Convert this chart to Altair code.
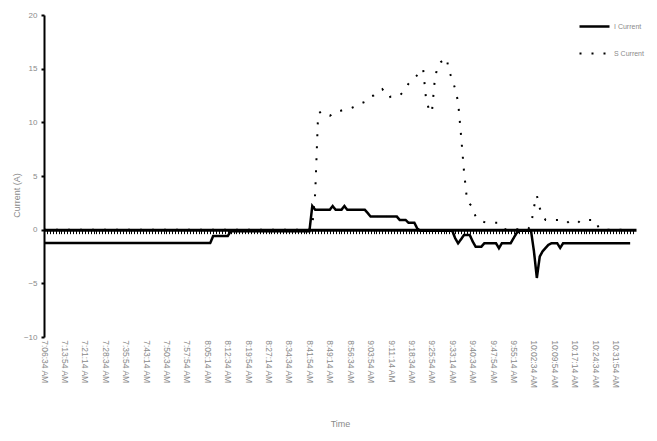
import altair as alt
import pandas as pd

# tick labels (one every 7 samples)
time_labels = [
    "7:06:34 AM", "7:13:54 AM", "7:21:14 AM", "7:28:34 AM", "7:35:54 AM",
    "7:43:14 AM", "7:50:34 AM", "7:57:54 AM", "8:05:14 AM", "8:12:34 AM",
    "8:19:54 AM", "8:27:14 AM", "8:34:34 AM", "8:41:54 AM", "8:49:14 AM",
    "8:56:34 AM", "9:03:54 AM", "9:11:14 AM", "9:18:34 AM", "9:25:54 AM",
    "9:33:14 AM", "9:40:34 AM", "9:47:54 AM", "9:55:14 AM", "10:02:34 AM",
    "10:09:54 AM", "10:17:14 AM", "10:24:34 AM", "10:31:54 AM",
]

# I Current, one value per sample
i_current = (
    [-1.25] * 58 + [-0.6] * 6 + [-0.15] * 28
    + [2.2] + [1.85] * 6 + [2.2] + [1.85] * 3 + [2.2] + [1.85] * 7
    + [1.55] + [1.22] * 10 + [0.9] * 3 + [0.65] * 3 + [0.1] + [-0.1] * 12
    + [-0.8, -1.27, -0.9] + [-0.5] * 3 + [-1.1] + [-1.58] * 3 + [-1.27] * 5
    + [-1.73] + [-1.27] * 4 + [-0.8, -0.34] + [-0.1] * 5
    + [-2.0, -4.5, -2.5, -2.0, -1.7, -1.4] + [-1.27] * 3 + [-1.7] + [-1.27] * 24
)

# S Current, one value per sample
s_current = (
    [0.0] * 92
    + [0.3, 3.4, 10.8, 11.0, 10.8, 10.7, 10.6, 10.8, 11.0, 11.0,
       11.1, 11.2, 11.25, 11.3, 11.4, 11.5, 11.6, 11.8, 11.9, 12.2,
       12.4, 12.5, 12.7, 12.9, 13.1, 12.7, 12.3, 12.4, 12.4, 12.5,
       12.5, 12.8, 13.2, 13.6, 13.9, 14.1, 14.4, 14.7, 15.0, 12.2,
       11.2, 10.9, 13.95, 15.3, 15.6, 15.8, 16.0, 14.7, 14.0, 13.1,
       11.9, 8.8, 5.5, 2.9, 2.4, 2.1, 1.2, 0.9, 0.8, 0.7]
    + [0.65] * 5 + [0.3] + [0.05] * 9
    + [0.4, 2.1, 3.2, 2.0, 1.3] + [0.9] * 8 + [0.6] * 4 + [0.9] * 6 + [0.3]
    + [0.0] * 11
)

series_names = ["I Current", "S Current"]
y_ticks = [-10, -5, 0, 5, 10, 15, 20]

n = len(i_current)
df = pd.DataFrame({
    "idx": list(range(n)) * 2,
    "current": i_current + s_current,
    "series": [series_names[0]] * n + [series_names[1]] * n,
})

W, H = 592, 322
gray = "#8a8a8a"
font = "Liberation Sans"
label_arr = "[" + ",".join("'%s'" % t for t in time_labels) + "]"
label_expr = f"datum.value % 7 === 0 ? {label_arr}[datum.value / 7] : ''"

chart = alt.Chart(df).mark_line(color="black", strokeCap="butt").encode(
    x=alt.X(
        "idx:Q",
        scale=alt.Scale(domain=[0, 203], nice=False, zero=False),
        axis=alt.Axis(
            values=list(range(0, 203)),
            labelExpr=label_expr,
            labelAngle=90, labelAlign="left", labelBaseline="middle",
            labelFontSize=8.5, labelColor=gray, labelFont=font,
            labelPadding=106, labelOverlap=False, labelBound=False, labelFlush=False,
            offset=-H / 3,
            domainColor="black", domainWidth=3,
            tickColor="black", tickWidth=1, tickSize=4,
            title="Time", titleFontSize=9, titleColor=gray, titleFont=font,
            titleFontWeight="normal", titlePadding=32, grid=False,
        ),
    ),
    y=alt.Y(
        "current:Q",
        scale=alt.Scale(domain=[-10, 20], nice=False),
        axis=alt.Axis(
            values=y_ticks,
            labelFontSize=8, labelColor=gray, labelFont=font, labelPadding=4,
            domainColor="black", domainWidth=2,
            tickColor="black", tickWidth=2, tickSize=3,
            title="Current (A)", titleFontSize=9, titleColor=gray, titleFont=font,
            titleFontWeight="normal", titlePadding=2, titleY=180, grid=False,
        ),
    ),
    strokeWidth=alt.StrokeWidth(
        "series:N",
        scale=alt.Scale(domain=series_names, range=[2.5, 2]),
        legend=None,
    ),
    strokeDash=alt.StrokeDash(
        "series:N",
        scale=alt.Scale(domain=series_names, range=[[1, 0], [2, 10]]),
        legend=alt.Legend(
            title=None, orient="none", legendX=534, legendY=-2,
            symbolType="stroke", symbolSize=900, symbolStrokeWidth=2.5,
            symbolStrokeColor="black",
            labelFontSize=7, labelColor=gray, labelFont=font, labelOffset=3,
            rowPadding=0, clipHeight=27,
        ),
    ),
).properties(
    width=W, height=H,
    autosize=alt.AutoSizeParams(type="none"),
    padding={"left": 36, "top": 7, "right": 13, "bottom": 96},
).configure_view(stroke=None)

chart.save("out.html", embed_options={"renderer": "svg", "actions": False})
